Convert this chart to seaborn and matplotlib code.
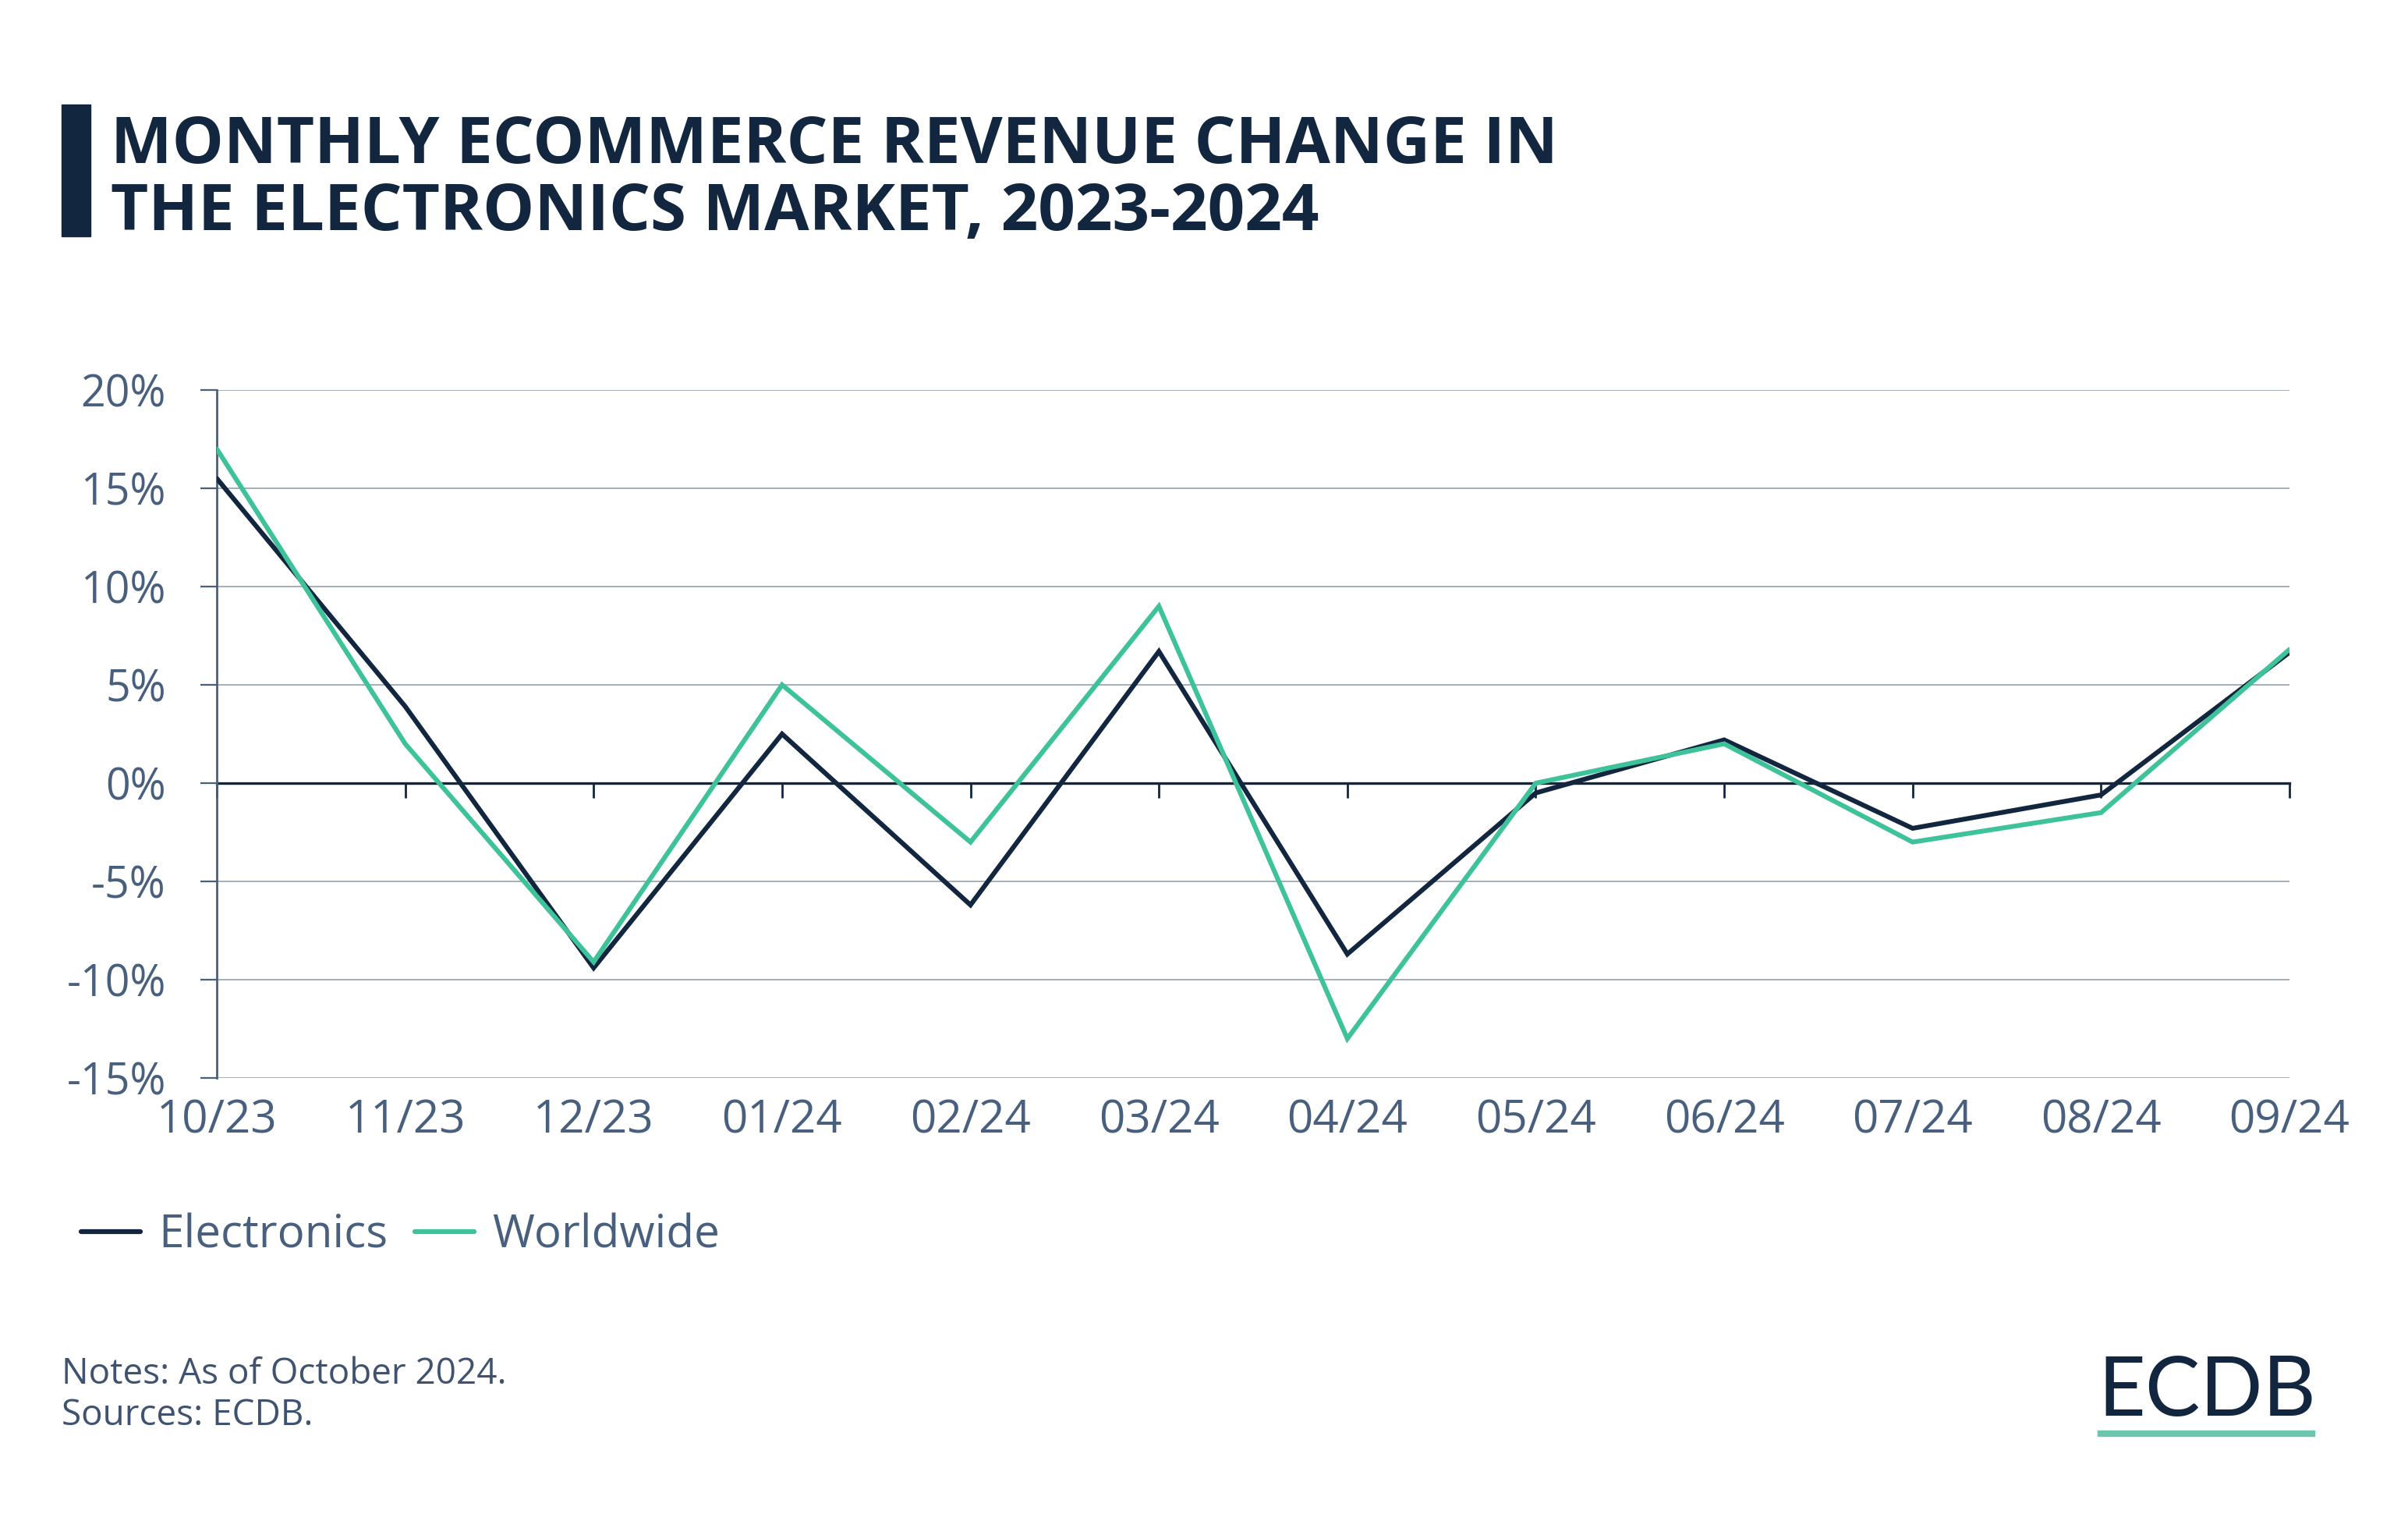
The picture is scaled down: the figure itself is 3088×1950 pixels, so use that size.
import matplotlib
matplotlib.use("Agg")
import matplotlib.pyplot as plt
import matplotlib.ticker as mticker
from matplotlib.lines import Line2D
from matplotlib.patches import Rectangle
import seaborn as sns
import pandas as pd

months = ["10/23", "11/23", "12/23", "01/24", "02/24", "03/24",
          "04/24", "05/24", "06/24", "07/24", "08/24", "09/24"]
electronics = [15.5, 3.9, -9.4, 2.5, -6.2, 6.7, -8.7, -0.5, 2.2, -2.3, -0.6, 6.65]
worldwide = [17.0, 2.0, -9.1, 5.0, -3.0, 9.0, -13.0, 0.0, 2.0, -3.0, -1.5, 6.8]
series_names = ["Electronics", "Worldwide"]
y_ticks = [-15, -10, -5, 0, 5, 10, 15, 20]

NAVY = "#12263F"
GREEN = "#3DC29A"
SLATE = "#48607E"
GRID = "#8A97A9"
NOTE = "#3F5371"

sns.set_theme(style="white")
plt.rcParams["font.family"] = ["Open Sans", "DejaVu Sans"]
plt.rcParams["axes.unicode_minus"] = False

df = pd.DataFrame({
    "month": months * 2,
    "pos": list(range(len(months))) * 2,
    "value": electronics + worldwide,
    "series": [series_names[0]] * len(months) + [series_names[1]] * len(months),
})

fig = plt.figure(figsize=(30.88, 19.5), dpi=100)
ax = fig.add_axes([278 / 3088, 1 - 1382 / 1950, (2936 - 278) / 3088, (1382 - 500) / 1950])

# grid lines
for t in y_ticks:
    if t != 0:
        ax.axhline(t, color=GRID, lw=1.1, zorder=0)

sns.lineplot(data=df, x="pos", y="value", hue="series", palette=[NAVY, GREEN],
             hue_order=series_names, sort=False, lw=4.4, ax=ax, legend=False,
             zorder=3)
for ln in ax.get_lines():
    ln.set_solid_joinstyle("miter")

ax.set_xlim(0, len(months) - 1)
ax.set_ylim(-15, 20)
ax.set_xlabel("")
ax.set_ylabel("")

ax.set_yticks(y_ticks)
ax.yaxis.set_major_formatter(mticker.FuncFormatter(lambda v, p: f"{int(round(v))}%"))
ax.tick_params(axis="y", direction="out", length=15, width=1.6, color=SLATE,
               pad=32, labelsize=40, labelcolor=SLATE, left=True)

ax.set_xticks(range(len(months)))
ax.set_xticklabels(months)
ax.tick_params(axis="x", length=0, pad=19, labelsize=42, labelcolor=SLATE, bottom=True)

for s in ["top", "right", "bottom"]:
    ax.spines[s].set_visible(False)
ax.spines["left"].set_color(SLATE)
ax.spines["left"].set_linewidth(2.0)

# zero axis with ticks
sec = ax.secondary_xaxis(15 / 35)
sec.set_xticks(range(len(months)))
sec.tick_params(axis="x", direction="out", length=14, width=2.0, color=NAVY,
                labelbottom=False, labeltop=False)
sec.set_xticklabels([])
sec.spines["bottom"].set_color(NAVY)
sec.spines["bottom"].set_linewidth(2.4)
sec.spines["bottom"].set_zorder(2)

# title
fig.patches.append(Rectangle((79 / 3088, 1 - 303 / 1950), 37 / 3088, 169 / 1950,
                             transform=fig.transFigure, color=NAVY, zorder=5))
fig.text(142 / 3088, 1 - 209 / 1950, "MONTHLY ECOMMERCE REVENUE CHANGE IN",
         fontsize=60, fontweight="bold", color=NAVY, ha="left", va="baseline")
fig.text(142 / 3088, 1 - 295 / 1950, "THE ELECTRONICS MARKET, 2023-2024",
         fontsize=60, fontweight="bold", color=NAVY, ha="left", va="baseline")

# legend
handles = [Line2D([0], [0], color=NAVY, lw=4.5, solid_capstyle="round"),
           Line2D([0], [0], color=GREEN, lw=4.5, solid_capstyle="round")]
leg = fig.legend(handles, series_names, loc="center left",
                 bbox_to_anchor=(104 / 3088, 1 - 1584 / 1950), ncol=2, frameon=False,
                 fontsize=42, handlelength=1.3, handletextpad=0.4, columnspacing=0.6,
                 borderpad=0, borderaxespad=0)
for t in leg.get_texts():
    t.set_color(SLATE)

# notes
fig.text(79 / 3088, 1 - 1762 / 1950, "Notes: As of October 2024.", fontsize=33,
         color=NOTE, ha="left", va="center")
fig.text(79 / 3088, 1 - 1815 / 1950, "Sources: ECDB.", fontsize=33,
         color=NOTE, ha="left", va="center")

# logo
fig.text(2690 / 3088, 1 - 1815 / 1950, "ECDB", fontsize=76, family="Lato",
         fontweight="normal", color=NAVY, ha="left", va="baseline")
fig.patches.append(Rectangle((2690 / 3088, 1 - 1841 / 1950), 278 / 3088, 7 / 1950,
                             transform=fig.transFigure, color="#6CC5AE", zorder=5))

fig.savefig("out.png", dpi=100)
